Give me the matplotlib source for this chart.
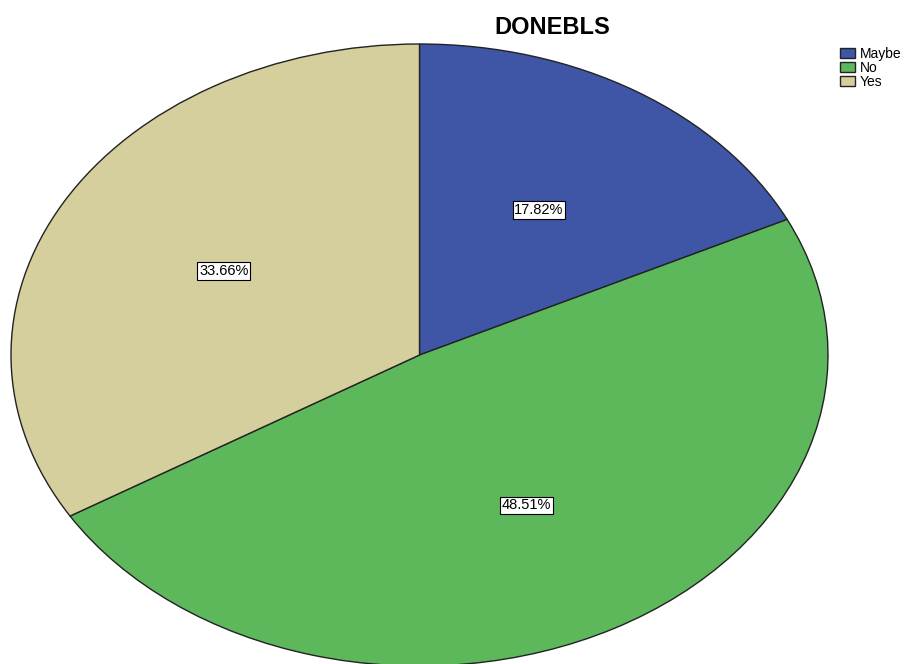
import matplotlib.pyplot as plt

# data
labels = ["Maybe", "No", "Yes"]
percents = [17.82, 48.51, 33.66]
colors = ["#3f55a6", "#5cb85b", "#d4cf9d"]

plt.rcParams['font.family'] = ['Liberation Sans', 'DejaVu Sans']

fig = plt.figure(figsize=(9.14, 6.64), dpi=100)
# pie is drawn as an ellipse spanning most of the figure
ax = fig.add_axes([11 / 914, -2 / 664, 817 / 914, 622 / 664])

wedges, texts, autotexts = ax.pie(
    percents, colors=colors, startangle=90, counterclock=False,
    autopct='%.2f%%', pctdistance=0.55,
    wedgeprops=dict(edgecolor='#222222', linewidth=1.0),
    textprops=dict(fontsize=10.5, color='black'))

for t in autotexts:
    t.set_bbox(dict(facecolor='white', edgecolor='black', linewidth=0.8, pad=1.2))

ax.set_aspect('auto')
ax.set_xlim(-1, 1)
ax.set_ylim(-1, 1)
ax.axis('off')

fig.text(552 / 914, 1 - 28 / 664, "DONEBLS", ha='center', va='center',
         fontsize=17, fontweight='bold')

fig.legend(wedges, labels, loc='upper left',
           bbox_to_anchor=(833 / 914, 1 - 40 / 664),
           frameon=False, fontsize=10, handlelength=1.1, handleheight=0.8,
           handletextpad=0.3, labelspacing=0.0, borderpad=0)

fig.savefig("out.png", dpi=100)
